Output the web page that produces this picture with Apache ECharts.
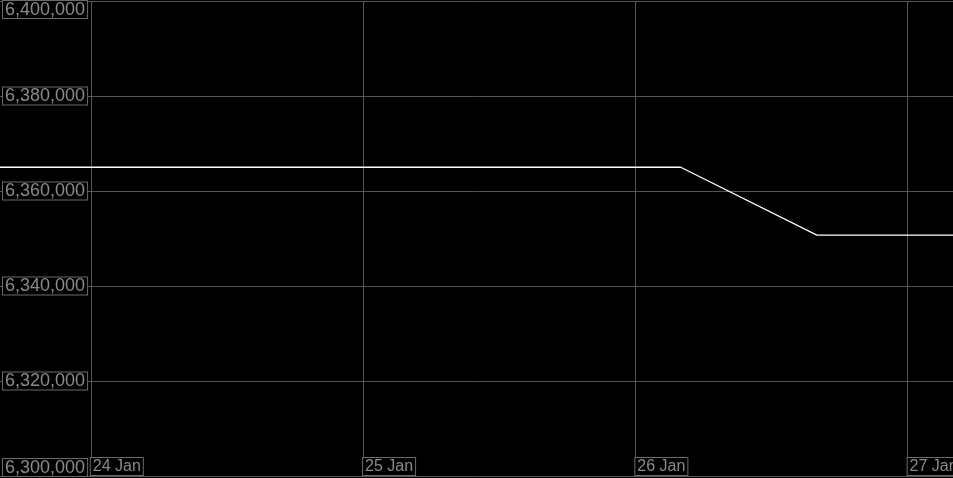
<!DOCTYPE html>
<html>
<head>
<meta charset="utf-8">
<script src="https://cdn.jsdelivr.net/npm/echarts@6/dist/echarts.min.js"></script>
<style>html,body{margin:0;padding:0;background:#000;}#c{width:953px;height:478px;}</style>
</head>
<body>
<div id="c"></div>
<script>
// Data (times in local time, 12-hour steps)
var times = [
  [2024,0,23,16],[2024,0,24,4],[2024,0,24,16],[2024,0,25,4],
  [2024,0,25,16],[2024,0,26,4],[2024,0,26,16],[2024,0,27,4]
];
var values = [6365000, 6365000, 6365000, 6365000, 6365000, 6365000, 6350700, 6350700];
var yTicks = [6300000, 6320000, 6340000, 6360000, 6380000, 6400000];

function toDate(t){ return new Date(t[0], t[1], t[2], t[3]).getTime(); }
var seriesData = times.map(function(t, i){ return [toDate(t), values[i]]; });

var chart = echarts.init(document.getElementById('c'), null, {renderer:'canvas'});
chart.setOption({
  backgroundColor: '#000',
  animation: false,
  grid: {left: 0, right: 0, top: 1, bottom: 2, containLabel: false, outerBoundsMode: 'none'},
  xAxis: {
    type: 'time',
    min: toDate(times[0]),
    max: toDate(times[times.length-1]),
    minInterval: 86400000,
    maxInterval: 86400000,
    axisLine: {show: true, lineStyle: {color: '#555', width: 1}},
    axisTick: {show: false},
    splitLine: {show: true, showMinLine: false, showMaxLine: false, lineStyle: {color: '#555', width: 1}},
    axisLabel: {
      inside: true,
      margin: 1,
      align: 'left',
      verticalAlign: 'bottom',
      color: '#8a8a8a',
      fontFamily: 'Liberation Sans, Arial, sans-serif',
      fontSize: 16,
      borderColor: '#6a6a6a',
      borderWidth: 1,
      backgroundColor: '#000',
      padding: [1, 2, 0, 2],
      showMinLabel: false,
      showMaxLabel: false,
      hideOverlap: false,
      formatter: function(v){
        var d = new Date(v);
        var m = ['Jan','Feb','Mar','Apr','May','Jun','Jul','Aug','Sep','Oct','Nov','Dec'][d.getMonth()];
        return d.getDate() + ' ' + m;
      }
    }
  },
  yAxis: {
    type: 'value',
    min: yTicks[0],
    max: yTicks[yTicks.length-1],
    interval: yTicks[1]-yTicks[0],
    axisLine: {show: false},
    axisTick: {show: false},
    splitLine: {show: true, lineStyle: {color: '#555', width: 1}},
    axisLabel: {
      inside: true,
      margin: 3,
      align: 'left',
      verticalAlign: 'middle',
      verticalAlignMinLabel: 'bottom',
      verticalAlignMaxLabel: 'top',
      color: '#8a8a8a',
      fontFamily: 'Liberation Sans, Arial, sans-serif',
      fontSize: 18,
      borderColor: '#6a6a6a',
      borderWidth: 1,
      backgroundColor: '#000',
      padding: [0, 2, -1, 2],
      formatter: function(v){ return v.toLocaleString('en-US'); }
    }
  },
  series: [{
    type: 'line',
    data: seriesData,
    symbol: 'none',
    lineStyle: {color: '#ffffff', width: 1.3},
    z: 1
  }]
});
</script>
</body>
</html>
